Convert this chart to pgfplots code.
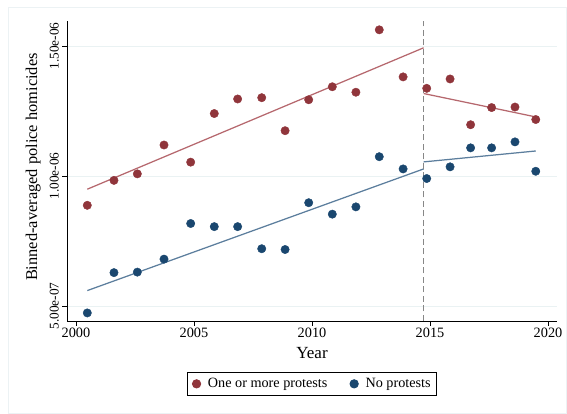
\documentclass[border=0pt]{standalone}
\usepackage{fontspec}
\setmainfont{Liberation Serif}
\usepackage{pgfplots}
\pgfplotsset{compat=1.18}
\usepackage{pgfplotstable}
\definecolor{cranberry}{RGB}{144,53,59}
\definecolor{navy}{RGB}{26,71,111}
\definecolor{redline}{RGB}{182,104,110}
\definecolor{blueline}{RGB}{92,126,157}
\definecolor{gridc}{RGB}{234,242,243}
\definecolor{framec}{RGB}{236,242,244}
\definecolor{dashc}{RGB}{135,135,135}

\pgfplotstableread{
x y
2000.48 0.887e-6
2001.61 0.983e-6
2002.60 1.008e-6
2003.73 1.119e-6
2004.86 1.053e-6
2005.86 1.240e-6
2006.85 1.296e-6
2007.87 1.301e-6
2008.86 1.174e-6
2009.86 1.293e-6
2010.86 1.343e-6
2011.86 1.322e-6
2012.85 1.562e-6
2013.86 1.381e-6
2014.86 1.337e-6
2015.85 1.373e-6
2016.72 1.197e-6
2017.61 1.263e-6
2018.60 1.265e-6
2019.48 1.217e-6
}\protests

\pgfplotstableread{
x y
2000.48 0.473e-6
2001.61 0.628e-6
2002.60 0.630e-6
2003.73 0.680e-6
2004.86 0.817e-6
2005.86 0.805e-6
2006.85 0.805e-6
2007.87 0.720e-6
2008.86 0.717e-6
2009.86 0.897e-6
2010.86 0.853e-6
2011.86 0.881e-6
2012.85 1.074e-6
2013.86 1.027e-6
2014.86 0.990e-6
2015.85 1.035e-6
2016.72 1.108e-6
2017.61 1.108e-6
2018.60 1.131e-6
2019.48 1.018e-6
}\noprotests

\begin{document}
\begin{tikzpicture}
\path[use as bounding box] (0pt,0pt) rectangle (567pt,414pt);
\draw[framec, line width=0.8pt] (8.5pt,0.5pt) rectangle (566.5pt,407pt);
\begin{axis}[
  at={(67pt,93pt)}, anchor=south west,
  width=490pt, height=300pt, scale only axis,
  xmin=1999.62, xmax=2020.38,
  ymin=4.42e-7, ymax=1.596e-6,
  axis x line*=bottom, axis y line*=left,
  axis line style={-, black, line width=0.8pt},
  tick align=outside, major tick length=5pt,
  tick style={black, line width=0.8pt},
  xtick={2000,2005,2010,2015,2020},
  xticklabels={2000,2005,2010,2015,2020},
  ytick={5e-7,1e-6,1.5e-6},
  yticklabels={5.00e-07,1.00e-06,1.50e-06},
  scaled y ticks=false,
  xticklabel style={font=\fontsize{14.3}{16}\selectfont, inner sep=2pt},
  yticklabel style={font=\fontsize{13.3}{15}\selectfont, rotate=90, anchor=south, inner sep=3pt},
  ymajorgrids,
  major grid style={gridc, line width=0.8pt},
  xlabel={Year},
  ylabel={Binned-averaged police homicides},
  xlabel style={font=\fontsize{17}{19}\selectfont, at={(axis description cs:0.5,-0.107)}, anchor=center},
  ylabel style={font=\fontsize{16.4}{18}\selectfont, at={(axis description cs:-0.069,0.513)}, anchor=center},
  legend columns=2,
  legend style={at={(axis description cs:0.5,-0.17)}, anchor=north,
    draw=black, line width=0.8pt, font=\fontsize{14.2}{16}\selectfont,
    inner xsep=4.5pt, inner ysep=4pt,
    nodes={inner xsep=1pt, inner ysep=2pt},
    cells={anchor=west},
    /tikz/every even column/.append style={column sep=21.5pt}},
  legend image code/.code={\path (-3pt,0pt) (10pt,0pt); \draw[#1] plot coordinates {(0pt,0pt)};},
  clip=false,
]
\addplot[forget plot, redline, line width=1.25pt] coordinates {(2000.48,0.949e-6) (2014.73,1.493e-6)};
\addplot[forget plot, redline, line width=1.25pt] coordinates {(2014.73,1.317e-6) (2019.48,1.227e-6)};
\addplot[forget plot, blueline, line width=1.25pt] coordinates {(2000.48,0.559e-6) (2014.73,1.027e-6)};
\addplot[forget plot, blueline, line width=1.25pt] coordinates {(2014.73,1.054e-6) (2019.48,1.096e-6)};
\addplot[forget plot, dashc, line width=1pt, dash pattern=on 6pt off 3.5pt] coordinates {(2014.73,4.42e-7) (2014.73,1.596e-6)};
\addplot[only marks, mark=*, mark size=4.2pt, color=cranberry, mark options={draw=cranberry, fill=cranberry}] table[x=x,y=y] {\protests};
\addlegendentry{One or more protests}
\addplot[only marks, mark=*, mark size=4.2pt, color=navy, mark options={draw=navy, fill=navy}] table[x=x,y=y] {\noprotests};
\addlegendentry{No protests}
\end{axis}
\end{tikzpicture}
\end{document}
